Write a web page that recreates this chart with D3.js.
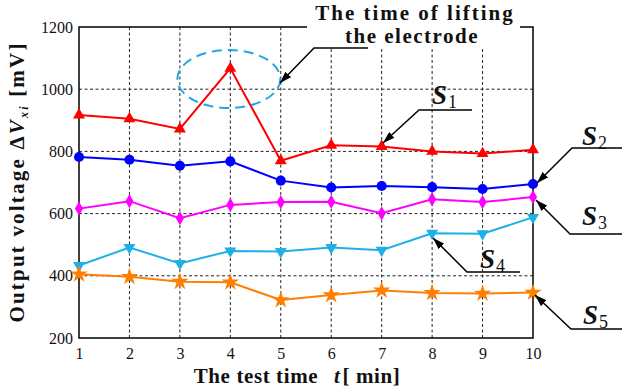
<!DOCTYPE html>
<html>
<head>
<meta charset="utf-8">
<script src="https://cdn.jsdelivr.net/npm/d3@7"></script>
<style>
  body { margin: 0; background: #fff; }
</style>
</head>
<body>
<svg id="chart"></svg>
<script>
// test time in minutes
var minutes = [1, 2, 3, 4, 5, 6, 7, 8, 9, 10];
var yTicks = [200, 400, 600, 800, 1000, 1200];

// output voltage of each electrode, mV
var s1 = [917, 905, 872, 1067, 770, 820, 816, 800, 793, 805];
var s2 = [782, 773, 754, 768, 706, 684, 689, 685, 679, 695];
var s3 = [616, 640, 585, 628, 637, 638, 601, 646, 637, 653];
var s4 = [433, 491, 440, 480, 478, 491, 482, 537, 535, 588];
var s5 = [405, 397, 381, 379, 322, 338, 353, 345, 343, 346];

var seriesNames = ["1", "2", "3", "4", "5"];
var seriesColors = ["#ff0000", "#0000ff", "#ff00ff", "#1fb0e6", "#ff8000"];
var seriesMarkers = ["triUp", "circle", "diamond", "triDown", "star"];

var FONT = "Liberation Serif";

var screen = { width: 622, height: 389 };
var margins = { top: 27, bottom: 51, left: 79, right: 89 };
var width = screen.width - margins.left - margins.right;
var height = screen.height - margins.top - margins.bottom;

var svg = d3.select("#chart")
  .attr("width", screen.width)
  .attr("height", screen.height)
  .style("font-family", FONT);

var xScale = d3.scaleLinear().domain([1, 10]).range([margins.left, margins.left + width]);
var yScale = d3.scaleLinear().domain([200, 1200]).range([margins.top + height, margins.top]);

// grid
var grid = svg.append("g").attr("stroke", "#222").attr("stroke-width", 1).attr("stroke-dasharray", "3,2.5");
grid.selectAll(".vg").data(minutes.slice(1, -1)).enter().append("line")
  .attr("x1", function(d) { return xScale(d); })
  .attr("x2", function(d) { return xScale(d); })
  .attr("y1", yScale(200)).attr("y2", yScale(1200));
grid.selectAll(".hg").data(yTicks.slice(1, -1)).enter().append("line")
  .attr("x1", xScale(1)).attr("x2", xScale(10))
  .attr("y1", function(d) { return yScale(d); })
  .attr("y2", function(d) { return yScale(d); });

// frame
svg.append("rect")
  .attr("x", xScale(1)).attr("y", yScale(1200))
  .attr("width", width).attr("height", height)
  .attr("fill", "none").attr("stroke", "#000").attr("stroke-width", 1.5);

// axes (labels only)
var xAxis = d3.axisBottom(xScale).tickValues(minutes).tickSize(0).tickPadding(10).tickFormat(d3.format("d"));
svg.append("g").attr("transform", "translate(0," + yScale(200) + ")").call(xAxis)
  .call(function(g) { g.select(".domain").remove(); })
  .selectAll("text").attr("font-size", 16).attr("fill", "#111")
  .style("font-family", FONT);

var yAxis = d3.axisLeft(yScale).tickValues(yTicks).tickSize(0).tickPadding(6).tickFormat(d3.format("d"));
svg.append("g").attr("transform", "translate(" + xScale(1) + ",0)").call(yAxis)
  .call(function(g) { g.select(".domain").remove(); })
  .selectAll("text").attr("font-size", 16).attr("fill", "#111")
  .style("font-family", FONT);

// white box behind the note at the top
svg.append("rect").attr("x", 307).attr("y", 0).attr("width", 213).attr("height", 48).attr("fill", "#fff");

// series
var allSeries = [s1, s2, s3, s4, s5];
var line = d3.line()
  .x(function(d, i) { return xScale(minutes[i]); })
  .y(function(d) { return yScale(d); });

var symbolFor = {
  triUp: d3.symbol().type(d3.symbolTriangle).size(62),
  triDown: d3.symbol().type(d3.symbolTriangle).size(62),
  circle: d3.symbol().type(d3.symbolCircle).size(80),
  diamond: d3.symbol().type(d3.symbolDiamond).size(58),
  star: d3.symbol().type(d3.symbolStar).size(95)
};

allSeries.forEach(function(vals, k) {
  svg.append("path").datum(vals)
    .attr("d", line)
    .attr("fill", "none")
    .attr("stroke", seriesColors[k])
    .attr("stroke-width", 2);
  svg.selectAll(".m" + k).data(vals).enter().append("path")
    .attr("d", symbolFor[seriesMarkers[k]])
    .attr("transform", function(d, i) {
      var r = seriesMarkers[k] == "triDown" ? " rotate(180)" : "";
      return "translate(" + xScale(minutes[i]) + "," + yScale(d) + ")" + r;
    })
    .attr("fill", seriesColors[k]);
});

// dashed ellipse round the lifting point
svg.append("ellipse")
  .attr("cx", xScale(4) - 1.5).attr("cy", 79)
  .attr("rx", 51.5).attr("ry", 29)
  .attr("fill", "none").attr("stroke", "#1fa8e0").attr("stroke-width", 2)
  .attr("stroke-dasharray", "10,6");

// leader arrows
svg.append("defs").append("marker")
  .attr("id", "arr").attr("viewBox", "0 0 12 8").attr("refX", 12).attr("refY", 4)
  .attr("markerWidth", 12).attr("markerHeight", 8).attr("markerUnits", "userSpaceOnUse")
  .attr("orient", "auto")
  .append("path").attr("d", "M0,0 L12,4 L0,8 Z").attr("fill", "#000");

var leaders = [
  [[368, 48], [314, 48], [280, 83]],
  [[472, 110], [419, 110], [383, 143]],
  [[622, 148], [572, 148], [537, 183]],
  [[622, 234], [570, 234], [536, 200]],
  [[520, 272], [467, 272], [433, 238]],
  [[622, 329], [571, 329], [535, 295]]
];
leaders.forEach(function(p) {
  svg.append("path")
    .attr("d", d3.line()(p))
    .attr("fill", "none").attr("stroke", "#000").attr("stroke-width", 1.5)
    .attr("marker-end", "url(#arr)");
});

// S labels
var labelPos = [[432, 104], [582, 145], [582, 225], [480, 268], [583, 324]];
labelPos.forEach(function(p, k) {
  var t = svg.append("text").attr("x", p[0]).attr("y", p[1]).attr("fill", "#111").style("font-family", FONT);
  t.append("tspan").text("S").attr("font-size", 27).attr("font-weight", "bold").attr("font-style", "italic");
  t.append("tspan").text(seriesNames[k]).attr("font-size", 18).attr("dy", 4).attr("dx", 1);
});

// note text
svg.append("text").attr("x", 415).attr("y", 20).attr("text-anchor", "middle").style("font-family", FONT)
  .attr("font-size", 21).attr("font-weight", "bold").attr("letter-spacing", 2).attr("fill", "#111")
  .text("The time of lifting");
svg.append("text").attr("x", 412).attr("y", 43).attr("text-anchor", "middle").style("font-family", FONT)
  .attr("font-size", 21).attr("font-weight", "bold").attr("letter-spacing", 1.5).attr("fill", "#111")
  .text("the electrode");

// x label
var xl = svg.append("text").attr("x", 297).attr("y", 383).attr("text-anchor", "middle").style("font-family", FONT)
  .attr("font-size", 21).attr("font-weight", "bold").attr("letter-spacing", 0.6).attr("fill", "#111");
xl.append("tspan").text("The test time ");
xl.append("tspan").text("t").attr("font-style", "italic").attr("dx", 10);
xl.append("tspan").text("[ min]").attr("dx", 2);

// y label
var yl = svg.append("text").attr("transform", "translate(24,182) rotate(-90)").attr("text-anchor", "middle").style("font-family", FONT)
  .attr("font-size", 21).attr("font-weight", "bold").attr("letter-spacing", 2.2).attr("fill", "#111");
yl.append("tspan").text("Output voltage \u0394");
yl.append("tspan").text("V").attr("font-style", "italic");
yl.append("tspan").text("xi").attr("font-style", "italic").attr("font-size", 12).attr("dy", 4);
yl.append("tspan").text(" [mV]").attr("dy", -4);
</script>
</body>
</html>
